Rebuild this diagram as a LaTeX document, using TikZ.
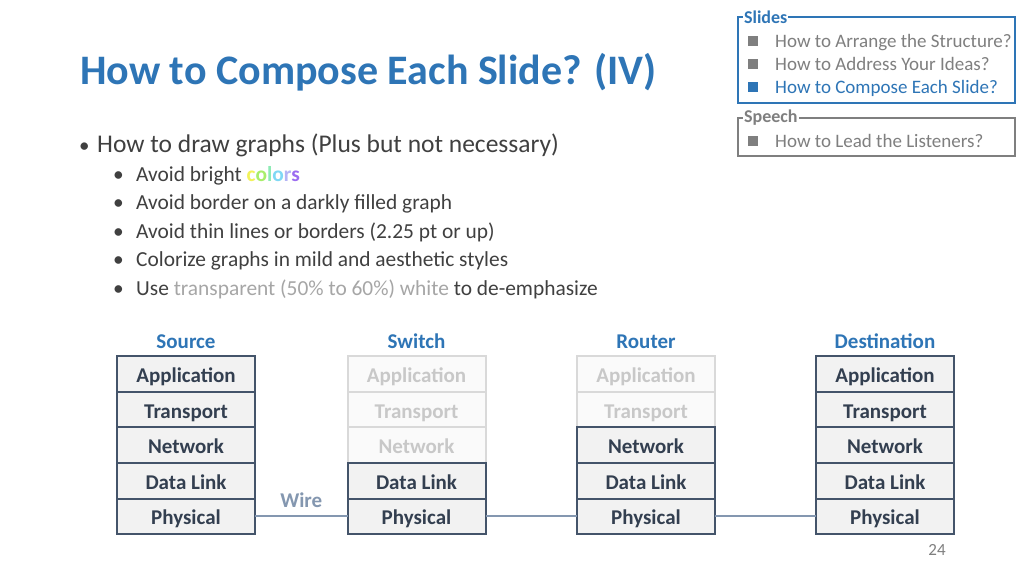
\documentclass[tikz,border=0pt]{standalone}
\usepackage{fontspec}
\setmainfont{Carlito}
\usepackage{tikz}
\usetikzlibrary{positioning}
\definecolor{TitleBlue}{HTML}{2E75B6}
\definecolor{BodyGray}{HTML}{404040}
\definecolor{LightText}{HTML}{A6A6A6}
\definecolor{MenuGray}{HTML}{7F7F7F}
\definecolor{LayerEdge}{HTML}{44546A}
\definecolor{LayerText}{HTML}{333F50}
\definecolor{LayerFill}{HTML}{F2F2F2}
\definecolor{FadeEdge}{HTML}{D9D9D9}
\definecolor{FadeFill}{HTML}{FAFAFA}
\definecolor{FadeText}{HTML}{C8C8C8}
\definecolor{WireBlue}{HTML}{8497B0}
\definecolor{ColA}{HTML}{F2F25A}
\definecolor{ColB}{HTML}{A8EE6A}
\definecolor{ColC}{HTML}{8CEBB4}
\definecolor{ColD}{HTML}{7FD8F5}
\definecolor{ColE}{HTML}{B4B4F5}
\definecolor{ColF}{HTML}{9C6CF0}

\begin{document}
\begin{tikzpicture}[x=1pt,y=-1pt,
  layer/.style={rectangle,draw=LayerEdge,fill=LayerFill,line width=2pt,
                minimum width=138pt,minimum height=35.6pt,inner sep=0pt,outer sep=0pt,
                text height=17pt,text depth=0pt,
                font=\fontsize{21}{24}\selectfont\bfseries,text=LayerText},
  faded/.style={layer,draw=FadeEdge,fill=FadeFill,text=FadeText},
  header/.style={font=\fontsize{21}{24}\selectfont\bfseries,text=TitleBlue,inner sep=2pt},
  wire/.style={draw=WireBlue,line width=2pt},
  bodytext/.style={anchor=base west,inner sep=0pt,text=BodyGray},
  menutext/.style={anchor=base west,inner sep=0pt,font=\fontsize{19}{22}\selectfont,text=MenuGray},
  menusq/.style={rectangle,fill=MenuGray,minimum size=10pt,inner sep=0pt},
  menubox/.style={rectangle,line width=2.2pt,inner sep=0pt},
  menulabel/.style={anchor=west,fill=white,inner sep=1pt,
                    font=\fontsize{18}{20}\selectfont\bfseries},
  node distance=0pt
]
\useasboundingbox[fill=white] (0,0) rectangle (1024,576);

% title and bullets
\node[bodytext,text=TitleBlue,font=\fontsize{42}{48}\selectfont\bfseries] (title) at (80,84) {How to Compose Each Slide? (IV)};
\node[bodytext,font=\fontsize{25.5}{28}\selectfont] (b1) at (79,152) {\makebox[18pt][l]{\fontsize{21}{24}\selectfont\textbullet}How to draw graphs (Plus but not necessary)};
\node[bodytext,font=\fontsize{21.4}{24}\selectfont] (b2) at (113,181) {\makebox[23pt][l]{\textbullet}Avoid bright {\bfseries\color{ColA}c\color{ColB}o\color{ColC}l\color{ColD}o\color{ColE}r\color{ColF}s}};
\node[bodytext,font=\fontsize{21.4}{24}\selectfont] (b3) at (113,209) {\makebox[23pt][l]{\textbullet}Avoid border on a darkly filled graph};
\node[bodytext,font=\fontsize{21.4}{24}\selectfont] (b4) at (113,238) {\makebox[23pt][l]{\textbullet}Avoid thin lines or borders (2.25 pt or up)};
\node[bodytext,font=\fontsize{21.4}{24}\selectfont] (b5) at (113,266) {\makebox[23pt][l]{\textbullet}Colorize graphs in mild and aesthetic styles};
\node[bodytext,font=\fontsize{21.4}{24}\selectfont] (b6) at (113,295) {\makebox[23pt][l]{\textbullet}Use \textcolor{LightText}{transparent (50\% to 60\%) white} to de-emphasize};

% outline in the corner
\node[menubox,draw=TitleBlue,minimum width=277pt,minimum height=86pt] (slidesBox) at (876.5,60) {};
\node[menulabel,text=TitleBlue] (slidesLbl) at ([xshift=6pt,yshift=-1pt]slidesBox.north west) {Slides};
\node[menusq] (sq1) at (752.5,41) {};
\node[menusq] (sq2) at (752.5,64) {};
\node[menusq,fill=TitleBlue] (sq3) at (752.5,87) {};
\node[menutext] (m1) at (775,47) {How to Arrange the Structure?};
\node[menutext] (m2) at (775,70) {How to Address Your Ideas?};
\node[menutext,text=TitleBlue] (m3) at (775,93) {How to Compose Each Slide?};

\node[menubox,draw=MenuGray,minimum width=277pt,minimum height=38pt] (speechBox) at (876.5,137) {};
\node[menulabel,text=MenuGray] (speechLbl) at ([xshift=6pt,yshift=-1pt]speechBox.north west) {Speech};
\node[menusq] (sq4) at (752.5,141) {};
\node[menutext] (m4) at (775,147) {How to Lead the Listeners?};

% source stack
\node[layer] (srcApp) at (186,374) {Application};
\node[layer,below=of srcApp] (srcTrn) {Transport};
\node[layer,below=of srcTrn] (srcNet) {Network};
\node[layer,below=of srcNet] (srcDl)  {Data Link};
\node[layer,below=of srcDl]  (srcPhy) {Physical};
\node[header,above=5pt of srcApp] (srcHead) {Source};

% switch stack
\node[faded] (swApp) at (416.5,374) {Application};
\node[faded,below=of swApp] (swTrn) {Transport};
\node[faded,below=of swTrn] (swNet) {Network};
\node[layer,below=of swNet] (swDl)  {Data Link};
\node[layer,below=of swDl]  (swPhy) {Physical};
\node[header,above=5pt of swApp] (swHead) {Switch};

% router stack
\node[faded] (rtApp) at (646,374) {Application};
\node[faded,below=of rtApp] (rtTrn) {Transport};
\node[layer,below=of rtTrn] (rtNet) {Network};
\node[layer,below=of rtNet] (rtDl)  {Data Link};
\node[layer,below=of rtDl]  (rtPhy) {Physical};
\node[header,above=5pt of rtApp] (rtHead) {Router};

% destination stack
\node[layer] (dstApp) at (885,374) {Application};
\node[layer,below=of dstApp] (dstTrn) {Transport};
\node[layer,below=of dstTrn] (dstNet) {Network};
\node[layer,below=of dstNet] (dstDl)  {Data Link};
\node[layer,below=of dstDl]  (dstPhy) {Physical};
\node[header,above=5pt of dstApp] (dstHead) {Destination};

% wires
\draw[wire] (srcPhy) -- node[above=3pt,inner sep=5pt,text=WireBlue,font=\fontsize{21}{24}\selectfont\bfseries]{Wire} (swPhy);
\draw[wire] (swPhy) -- (rtPhy);
\draw[wire] (rtPhy) -- (dstPhy);

\node[text=MenuGray,font=\fontsize{17}{19}\selectfont] (page) at (937,550) {24};
\end{tikzpicture}
\end{document}
